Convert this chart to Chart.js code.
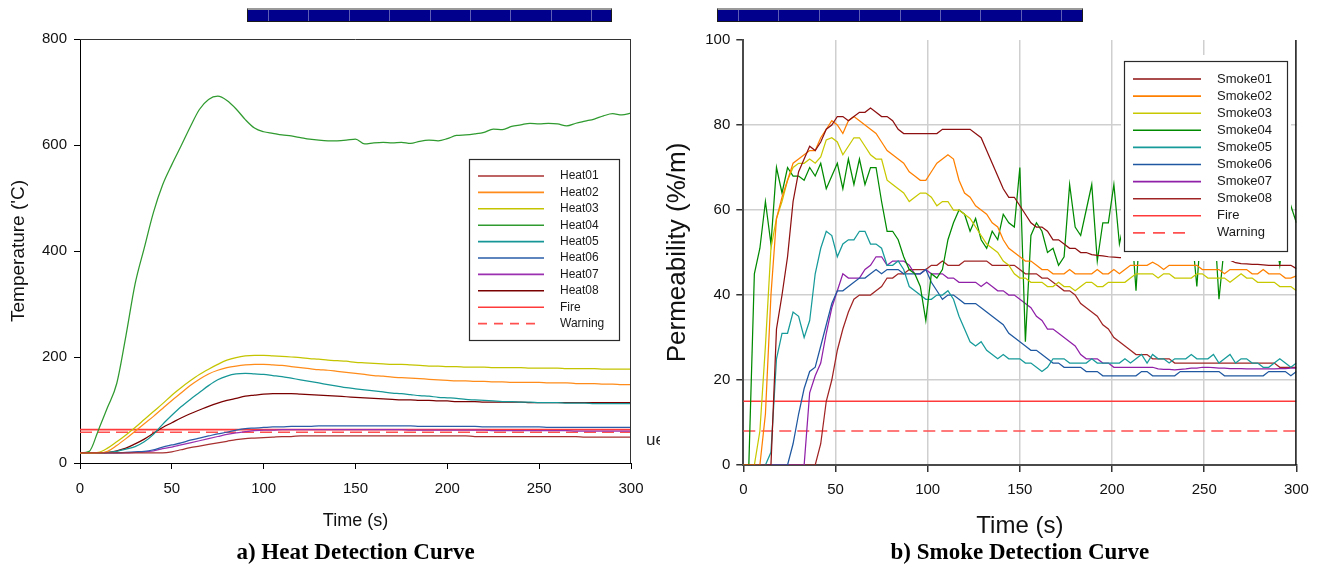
<!DOCTYPE html>
<html>
<head>
<meta charset="utf-8">
<script src="https://cdn.jsdelivr.net/npm/chart.js@4.4.1/dist/chart.umd.min.js"></script>
<style>
  html, body { margin: 0; padding: 0; background: #fff; }
  #page { position: relative; width: 1321px; height: 568px; overflow: hidden; background: #fff; }
  canvas { position: absolute; top: 0; }
  #heat { left: 0; }
  #smoke { left: 660px; }
  .bar {
    position: absolute; top: 8px; height: 11px;
    background-color: #00008c;
    border: 1px solid #1a1a1a; border-top: 2px solid #9a9a9a;
    background-image: repeating-linear-gradient(to right,
      transparent 0, transparent 20px,
      rgba(110,110,190,0.85) 20px, rgba(110,110,190,0.85) 21px,
      transparent 21px, transparent 40.4px);
  }
</style>
</head>
<body>
<div id="page">
  <canvas id="heat" width="660" height="568"></canvas>
  <canvas id="smoke" width="661" height="568"></canvas>
  <div class="bar" style="left:247px;width:363px"></div>
  <div class="bar" style="left:717px;width:364px"></div>
</div>
<script>
// ---------- Heat detectors (temperature, deg C), sampled every 5 s ----------
const heatTime = [0,5,10,15,20,25,30,35,40,45,50,55,60,65,70,75,80,85,90,95,100,105,110,115,120,125,130,135,140,145,150,155,160,165,170,175,180,185,190,195,200,205,210,215,220,225,230,235,240,245,250,255,260,265,270,275,280,285,290,295,300];
const heat01 = [19,19,19,19,19,19,19,19,19,19, 21,25,29,32,35,38,41,44,46,47, 48,49,50,50,51,51,51,51,51,51, 51,51,51,51,51,51,51,51,51,51, 51,51,51,50,50,50,50,50,50,50, 50,50,50,50,50,49,49,49,49,49,49];
const heat02 = [19,19,19,22,33,46,60,74,88,103, 118,132,146,158,168,175,180,183,185,186, 186,185,184,182,180,178,176,175,173,171, 169,167,165,164,162,161,160,159,158,157, 156,155,155,154,154,153,153,152,152,152, 152,151,151,151,150,150,150,149,149,148,148];
const heat03 = [19,19,20,28,40,53,67,82,97,112, 128,142,155,167,177,186,194,199,202,203, 203,202,201,200,199,197,196,194,193,192, 190,189,188,187,186,186,185,184,183,183, 182,182,181,181,181,180,180,180,180,179, 179,179,179,178,178,178,178,177,177,177,177];
const heat04 = [19,22,62,105,150,240,338,406,473,525, 563,598,634,667,686,692,684,668,648,632, 625,622,619,617,614,611,609,608,608,609, 611,602,604,605,604,605,603,607,609,608, 612,618,619,621,624,630,629,635,638,641, 640,641,640,636,641,645,649,655,659,657,660];
const heat05 = [19,19,19,20,22,26,31,40,54,73, 90,106,120,133,146,157,164,168,169,168, 167,165,163,160,157,154,151,148,145,142, 140,138,136,134,132,131,129,127,126,124, 123,122,120,119,118,117,116,116,115,115, 114,114,114,113,113,113,112,112,112,112,112];
const heat06 = [19,19,19,19,19,20,21,22,25,30, 34,38,43,47,51,55,58,62,65,66, 67,68,68,69,69,69,70,70,70,70, 70,70,70,70,70,70,70,69,69,69, 69,69,69,69,68,68,68,68,68,68, 68,67,67,67,67,67,67,67,67,67,67];
const heat07 = [19,19,19,19,19,19,20,21,23,27, 30,34,38,42,46,50,54,57,59,61, 62,62,63,63,63,63,63,63,63,63, 63,63,63,63,63,63,62,62,62,62, 62,62,62,62,62,61,61,61,61,61, 61,61,61,61,60,60,60,60,60,60,60];
const heat08 = [19,19,19,20,23,28,36,45,56,67, 76,85,93,100,107,113,118,122,126,128, 130,131,131,131,130,129,128,127,126,125, 124,123,122,121,120,119,119,118,118,117, 117,116,116,116,115,115,115,115,115,114, 114,114,114,114,114,114,114,114,114,114,114];
const heatFire = 63;
const heatWarning = 58;

// ---------- Smoke detectors (permeability, %/m), sampled every 3 s ----------
const smokeTime = [0,3,6,9,12,15,18,21,24,27,30,33,36,39,42,45,48,51,54,57,60,63,66,69,72,75,78,81,84,87,90,93,96,99,102,105,108,111,114,117,120,123,126,129,132,135,138,141,144,147,150,153,156,159,162,165,168,171,174,177,180,183,186,189,192,195,198,201,204,207,210,213,216,219,222,225,228,231,234,237,240,243,246,249,252,255,258,261,264,267,270,273,276,279,282,285,288,291,294,297,300];
const smoke01 = [0,0,0,0,0,0,32,40,49,62, 69,72,75,74,76,79,80,82,82,81, 82,83,83,84,83,82,82,81,79,78, 78,78,78,78,78,78,79,79,79,79, 79,79,78,77,74,71,68,65,63,63, 61,59,57,56,56,55,53,53,52,51, 51,50,50,49.5,49.3,49.2,49,48.9,48.8,48.8, 48.7,48.6,48.6,48.5,48.5,48.5,48.5,48.4,48.4,48.4, 48.4,48.4,48.4,48.4,48.3,48.3,48.3,48.3,48.2,47.6, 47.4,47.3,47.2,47.2,47.1,47,47,47,47,47, 46.2];
const smoke02 = [0,0,0,0,12,40,58,63,67,71, 72,73,74,74,77,79,81,80,78,81, 82,81,80,79,78,76,74,73,72,71, 69,68,67,67,69,71,72,73,72,67, 64,63,61,60,59,57,56,53,51,50, 49,48,48,47,46,46,45,45,45,46, 45,45,45,45,46,45,45,46,45,46, 47,47,47,47,47.7,47,46,47,47,47, 47,47,47,46,46,46,46,45,46,46, 46,46,45,45,46,45,45,45,44,44, 44.5];
const smoke03 = [0,0,0,8,28,51,58,62,67,70, 71,71,72,71,72.5,76.5,77,76,73,75, 77,77,75,73,72,72,67,66,65,64, 62,63,64,64,63,61,62,62,60,60, 59,58,56,54,52,51,50,48,47,45, 44,44,43,43,43,42,42,43,42,42, 41,42,43,43,42,42,43,43,43,43, 44,45,45,45,45,44,45,45,44,44, 44,44,45,45,44,44,44,44,43,44, 45,44,44,43,43,43,43,42,42,42, 41];
const smoke04 = [0,0,45,51,62,52,70,64,70,68, 68,67,70,68,71,65,68,71,65,72, 66,72,66,70,70,62,55,55,53,49, 46,45,42,34,45,44,46,53,57,60, 59,55,58,53,51,55,53,59,57,56, 70,29,54,57,55,50,51,47,49,66, 56,54,60,66,48,57,57,66,52,58, 60,41,62,56,60,58,63,56,60,58, 62,56,42,60,57,61,39,52,58,62, 56,60,58,63,57,60,55,47,58,61, 57];
const smoke05 = [0,0,0,0,0,3,25,31,31,36, 35,30,34,45,51,55,54,49,52,53, 53,55,55,52,52,51,47,47,48,46, 42,41,40,39,39,40,40,41,39,35, 32,29,28,29,27,26,25,26,25,25, 25,24,24,23,22,23,25,25,25,24, 24,24,24,25,24,24,24,24,24,25, 24,25,26,24,26,25,25,24,25,25, 25,26,25,25,25,26,24,25,26,24, 25,25,24,24,23,23,24,25,24,23, 24];
const smoke06 = [0,0,0,0,0,0,0,0,0,5, 12,18,22,23,28,33,38,41,41,42, 43,44,44,45,46,45,46,46,46,45, 45,45,45,46,43,41,39,40,40,39, 38,38,38,37,36,35,34,33,31,30, 29,28,27,27,26,25,24,24,23,23, 23,23,22,22,22,21,21,21,21,21, 21,21,22,22,21,21,21,21,21,22, 22,22,22,22,22,22,22,21,21,21, 21,21,21,21,21,22,22,22,22,21, 22];
const smoke07 = [0,0,0,0,0,0,0,0,0,0, 0,0,17,21,24,31,37,41,45,44, 44,44,46,47,49,49,47,48,48,48, 47,45,45,46,45,45,45,44,44,43, 43,43,43,42,43,42,41,41,40,40, 39,38,37,35,34,32,32,31,30,29, 28,26,25,25,25,24,24,23,23,23, 23,23,23,23,23,22.6,22.5,22.5,22.4,22.5, 22.6,22.8,22.8,23,23,22.9,22.8,22.8,22.7,22.7, 22.7,22.6,22.6,22.6,22.6,22.6,22.6,22.7,22.7,22.8, 22.8];
const smoke08 = [0,0,0,0,0,0,0,0,0,0, 0,0,0,0,5,15,20,27,32,36, 39,40,40,40,41,42,44,44,45,45, 46,46,46,46,47,47,48,47,47,47, 48,48,48,48,48,47,47,47,47,47, 46,45,45,45,44,44,43,42,41,41, 40,38,37,36,35,33,32,30,29,28, 27,26,26,26,25,25,25,25,24,24, 24,24,24,24,24,24,24,24,24,24, 24,24,24,24,24,24,24,23,23,23, 23];
const smokeFire = 15;
const smokeWarning = 8;

// ---------- Axis tick values ----------
const timeTicks = [0, 50, 100, 150, 200, 250, 300];
const heatTicks = [0, 200, 400, 600, 800];
const smokeTicks = [0, 20, 40, 60, 80, 100];

// ---------- Series styling ----------
const heatSeries = [
  { label: 'Heat01', values: heat01, color: '#a83030' },
  { label: 'Heat02', values: heat02, color: '#ff8c1a' },
  { label: 'Heat03', values: heat03, color: '#c4c400' },
  { label: 'Heat04', values: heat04, color: '#2f9a2f' },
  { label: 'Heat05', values: heat05, color: '#169696' },
  { label: 'Heat06', values: heat06, color: '#2a5ca8' },
  { label: 'Heat07', values: heat07, color: '#9b30b0' },
  { label: 'Heat08', values: heat08, color: '#7a0000' }
];
const smokeSeries = [
  { label: 'Smoke01', values: smoke01, color: '#8e1010' },
  { label: 'Smoke02', values: smoke02, color: '#ff8000' },
  { label: 'Smoke03', values: smoke03, color: '#c8c800' },
  { label: 'Smoke04', values: smoke04, color: '#008a00' },
  { label: 'Smoke05', values: smoke05, color: '#179a9a' },
  { label: 'Smoke06', values: smoke06, color: '#1f58a0' },
  { label: 'Smoke07', values: smoke07, color: '#9020a8' },
  { label: 'Smoke08', values: smoke08, color: '#a02424' }
];

const SANS = "'Liberation Sans', Arial, sans-serif";
const SERIF = "'Liberation Serif', 'Times New Roman', serif";
Chart.defaults.font.family = SANS;
Chart.defaults.color = '#111';

function points(times, values) {
  return times.map((t, i) => ({ x: t, y: values[i] }));
}
function level(value) {
  return [{ x: timeTicks[0], y: value }, { x: timeTicks[timeTicks.length - 1], y: value }];
}
function buildDatasets(series, times, fire, warning, smooth) {
  const sets = series.map(s => ({
    label: s.label,
    data: points(times, s.values),
    borderColor: s.color,
    borderWidth: 1.25,
    pointRadius: 0,
    fill: false,
    cubicInterpolationMode: smooth ? 'monotone' : 'default',
    tension: 0
  }));
  sets.push({ label: 'Fire', data: level(fire), borderColor: '#ff3a3a', borderWidth: 1.6, pointRadius: 0 });
  sets.push({ label: 'Warning', data: level(warning), borderColor: '#ff5050', borderWidth: 1.5, borderDash: [12, 6], pointRadius: 0 });
  return sets;
}

// Framed legend (optionally clearing a white panel behind it) and plot-box edges.
const boxPlugin = {
  id: 'boxPlugin',
  afterDatasetsDraw(chart, args, o) {
    const ctx = chart.ctx;
    const a = chart.chartArea;
    ctx.save();
    // plot frame edges
    ctx.strokeStyle = o.frameColor;
    ctx.lineWidth = o.frameWidth;
    ctx.beginPath();
    if (o.frameTop) { ctx.moveTo(a.left, a.top + 0.5); ctx.lineTo(a.right, a.top + 0.5); }
    ctx.moveTo(a.right - 0.5, a.top); ctx.lineTo(a.right - 0.5, a.bottom);
    ctx.stroke();
    // legend
    const L = o.legend;
    ctx.fillStyle = '#fff';
    if (L.clear) ctx.fillRect(L.clear[0], L.clear[1], L.clear[2], L.clear[3]);
    ctx.fillRect(L.x, L.y, L.w, L.h);
    ctx.strokeStyle = '#2a2a2a';
    ctx.lineWidth = 1.2;
    ctx.strokeRect(L.x + 0.5, L.y + 0.5, L.w, L.h);
    ctx.font = L.font;
    ctx.textBaseline = 'middle';
    ctx.textAlign = 'left';
    chart.data.datasets.forEach((ds, i) => {
      const y = L.rowY + i * L.rowGap;
      ctx.strokeStyle = ds.borderColor;
      ctx.lineWidth = 1.6;
      ctx.setLineDash(ds.borderDash ? L.dash : []);
      ctx.beginPath();
      ctx.moveTo(L.lineX0, y);
      ctx.lineTo(ds.borderDash ? L.lineX0 + L.dashLen : L.lineX1, y);
      ctx.stroke();
      ctx.setLineDash([]);
      ctx.fillStyle = '#1a1a1a';
      ctx.fillText(ds.label, L.textX, y);
    });
    if (o.note) {
      ctx.font = o.note.font;
      ctx.fillStyle = '#222';
      ctx.fillText(o.note.text, o.note.x, o.note.y);
    }
    ctx.restore();
  }
};

function makeChart(id, cfg) {
  return new Chart(document.getElementById(id), {
    type: 'line',
    data: { datasets: cfg.datasets },
    plugins: [boxPlugin],
    options: {
      responsive: false,
      animation: false,
      devicePixelRatio: 1,
      events: [],
      layout: { padding: cfg.padding },
      plugins: {
        legend: { display: false },
        tooltip: { enabled: false },
        title: {
          display: true,
          text: cfg.title,
          position: 'bottom',
          fullSize: false,
          color: '#000',
          font: { family: SERIF, size: 23, weight: 'bold' },
          padding: { top: 3, bottom: 1 }
        },
        boxPlugin: cfg.box
      },
      scales: {
        x: {
          type: 'linear',
          min: 0, max: 300,
          afterBuildTicks: s => { s.ticks = timeTicks.map(v => ({ value: v })); },
          afterFit: s => { s.height = cfg.xHeight; },
          ticks: { font: { size: 15 }, color: '#111', padding: cfg.xTickPad, maxRotation: 0 },
          grid: cfg.xGrid,
          border: cfg.border,
          title: { display: true, text: 'Time (s)', color: '#111', font: cfg.xTitleFont, padding: cfg.xTitlePad }
        },
        y: {
          type: 'linear',
          min: cfg.yMin, max: cfg.yMax,
          afterBuildTicks: s => { s.ticks = cfg.yTicks.map(v => ({ value: v })); },
          afterFit: s => { s.width = cfg.yWidth; },
          ticks: { font: { size: 15 }, color: '#111', padding: cfg.yTickPad },
          grid: cfg.yGrid,
          border: cfg.border,
          title: { display: true, text: cfg.yTitle, color: '#111', font: cfg.yTitleFont, padding: cfg.yTitlePad }
        }
      }
    }
  });
}

// a) Heat detection
makeChart('heat', {
  datasets: buildDatasets(heatSeries, heatTime, heatFire, heatWarning, true),
  padding: { left: 0, right: 29, top: 39, bottom: 0 },
  title: 'a) Heat Detection Curve',
  xHeight: 73.4,
  xTickPad: 11,
  yWidth: 80,
  yMin: 0, yMax: 800,
  yTicks: heatTicks,
  yTickPad: 7,
  yTitle: "Temperature ('C)",
  yTitleFont: { size: 19 },
  yTitlePad: { top: 7, bottom: 0 },
  xTitleFont: { size: 18 },
  xTitlePad: { top: 0, bottom: 5 },
  border: { display: true, color: '#000', width: 1 },
  xGrid: { drawOnChartArea: false, drawTicks: true, tickLength: 6, color: '#000', tickColor: '#000' },
  yGrid: { drawOnChartArea: false, drawTicks: true, tickLength: 6, color: '#000', tickColor: '#000' },
  box: {
    frameTop: true, frameColor: '#333', frameWidth: 1,
    legend: {
      x: 469, y: 159, w: 150, h: 181,
      rowY: 176, rowGap: 16.4,
      lineX0: 478, lineX1: 544, dashLen: 58, dash: [9, 7],
      textX: 560, font: '12px ' + SANS
    },
    note: { text: 'ue', x: 646, y: 440, font: '17px ' + SANS }
  }
});

// b) Smoke detection
const lightGrid = '#cfcfcf';
makeChart('smoke', {
  datasets: buildDatasets(smokeSeries, smokeTime, smokeFire, smokeWarning, false),
  padding: { left: 0, right: 24.6, top: 40, bottom: 0 },
  title: 'b) Smoke Detection Curve',
  xHeight: 71.4,
  xTickPad: 9,
  yWidth: 83.3,
  yMin: 0, yMax: 100,
  yTicks: smokeTicks,
  yTickPad: 6,
  yTitle: 'Permeability (%/m)',
  yTitleFont: { size: 26 },
  yTitlePad: { top: 2, bottom: 0 },
  xTitleFont: { size: 24, lineHeight: 0.8 },
  xTitlePad: { top: 0, bottom: 0 },
  border: { display: true, color: '#4a4a4a', width: 2 },
  xGrid: {
    drawTicks: true, tickLength: 7, lineWidth: 1.5, tickColor: '#333',
    color: c => (c.tick && (c.tick.value === 0 || c.tick.value === 300)) ? 'rgba(0,0,0,0)' : lightGrid
  },
  yGrid: {
    drawTicks: true, tickLength: 7, lineWidth: 1.5, tickColor: '#333',
    color: c => (c.tick && (c.tick.value === 0 || c.tick.value === 100)) ? 'rgba(0,0,0,0)' : lightGrid
  },
  box: {
    frameTop: false, frameColor: '#111', frameWidth: 1.5,
    legend: {
      clear: [461, 55, 170, 206],
      x: 464, y: 61, w: 163, h: 190,
      rowY: 79, rowGap: 17.1,
      lineX0: 473, lineX1: 541, dashLen: 58, dash: [12, 8],
      textX: 557, font: '13px ' + SANS
    }
  }
});
</script>
</body>
</html>
